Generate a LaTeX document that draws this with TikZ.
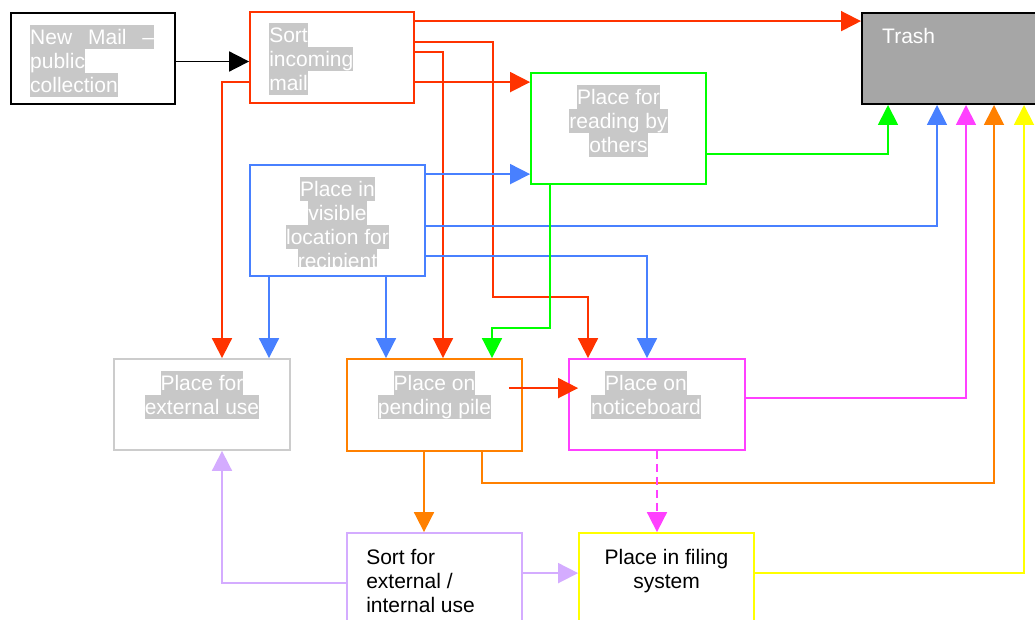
\documentclass[tikz,border=0pt]{standalone}
\usepackage{fontspec}
\setmainfont{Liberation Sans}
\usetikzlibrary{
  arrows.meta,
  positioning,
  calc
}
\definecolor{sortcolor}{RGB}{255, 51, 0}
\definecolor{visiblecolor}{RGB}{72, 128, 255}
\definecolor{readingcolor}{RGB}{0, 255, 0}
\definecolor{noticecolor}{RGB}{255, 64, 255}
\definecolor{pendingcolor}{RGB}{255, 128, 0}
\definecolor{filingcolor}{RGB}{255, 255, 0}
\definecolor{externalcolor}{RGB}{204, 204, 204}
\definecolor{sortextcolor}{RGB}{212, 172, 255}
\definecolor{trashcolor}{RGB}{166, 166, 166}
\definecolor{highlightcolor}{RGB}{200, 200, 200}
\newcommand{\linestrut}{\rule[-4.7pt]{0pt}{24pt}}
\newcommand{\hlline}[1]{{\setlength{\fboxsep}{0pt}\colorbox{highlightcolor}{\linestrut#1}}}
\tikzset{
mailbox/.style={
  draw,
  line width=1.8pt,
  minimum width=175pt,
  minimum height=91pt,
  inner sep=0pt
},
boxtext/.style={
  inner sep=0pt,
  font=\fontsize{21}{24}\selectfont,
  text=white,
  align=center
},
darktext/.style={
  boxtext,
  text=black
},
flow/.style={
  -{Triangle[length=20pt,width=20pt]},
  line width=1.8pt
},
redarrow/.style={flow, draw=sortcolor},
bluearrow/.style={flow, draw=visiblecolor},
greenarrow/.style={flow, draw=readingcolor},
magentaarrow/.style={flow, draw=noticecolor},
orangearrow/.style={flow, draw=pendingcolor},
yellowarrow/.style={flow, draw=filingcolor},
lavenderarrow/.style={flow, draw=sortextcolor},
dashedarrow/.style={
  magentaarrow,
  dash pattern=on 8pt off 5pt
}
}

\begin{document}
\begin{tikzpicture}[x=1pt, y=-1pt]
\clip (0,0) rectangle (1035,620);

% ============================================================================
% BOXES
% ============================================================================
\node[mailbox, draw=black, line width=2pt, minimum width=164pt] (newmail) at (93,58.5) {};
\node[boxtext, align=left, below right=13pt and 20pt of newmail.north west]
  {\hlline{\hbox to 124pt{New\hfill Mail\hfill –}}\\\hlline{public}\\\hlline{collection}};

\node[mailbox, draw=sortcolor, minimum width=164pt] (sortin) at (332,57.5) {};
\node[boxtext, align=left, below right=12pt and 20pt of sortin.north west]
  {\hlline{Sort}\\\hlline{incoming}\\\hlline{mail}};

\node[mailbox, draw=black, line width=2pt, fill=trashcolor, minimum width=184pt] (trash) at (954,58.5) {};
\node[boxtext, align=left, below right=12.5pt and 21pt of trash.north west] {\linestrut Trash};

\node[mailbox, draw=readingcolor, minimum height=111pt] (reading) at (618.5,128.5) {};
\node[boxtext, below=12.5pt of reading.north]
  {\hlline{Place for}\\\hlline{reading by}\\\hlline{others}};

\node[mailbox, draw=visiblecolor, minimum height=111pt] (visible) at (337.5,220.5) {};
\begin{scope}
  \clip (visible.north west) rectangle ($(visible.south east)+(0,-10)$);
  \node[boxtext, below=12.5pt of visible.north]
    {\hlline{Place in}\\\hlline{visible}\\\hlline{location for}\\\hlline{recipient}};
\end{scope}

\node[mailbox, draw=externalcolor, minimum width=176pt] (external) at (202,404.5) {};
\node[boxtext, below=13pt of external.north]
  {\hlline{Place for}\\\hlline{external use}};

\node[mailbox, draw=pendingcolor, minimum height=92pt] (pending) at (434.5,405) {};
\node[boxtext, below=13pt of pending.north]
  {\hlline{Place on}\\\hlline{pending pile}};

\node[mailbox, draw=noticecolor, minimum width=176pt] (notice) at (657,404.5) {};
\node[boxtext, below=13pt of notice.north, xshift=-11pt]
  {\hlline{Place on}\\\hlline{noticeboard}};

\node[mailbox, draw=sortextcolor, minimum height=111pt] (sortext) at (434.5,588.5) {};
\node[darktext, align=left, below right=13pt and 20pt of sortext.north west]
  {\linestrut Sort for\\\linestrut external /\\\linestrut internal use};

\node[mailbox, draw=filingcolor, minimum height=111pt] (filing) at (666.5,588.5) {};
\node[darktext, below=13pt of filing.north]
  {\linestrut Place in filing\\\linestrut system};

% ============================================================================
% CONNECTORS
% ============================================================================
\draw[flow, draw=black] ($(newmail.east)+(0,3)$) coordinate (n1) -- (n1 -| sortin.west);

% from sorting
\draw[redarrow] ($(sortin.north east)+(0,10)$) coordinate (r1) -- (r1 -| trash.west);
\draw[redarrow] ($(sortin.north east)+(0,31)$) -- ++(78,0) |- ($(notice.north)+(-69,-61)$) -- ($(notice.north)+(-69,0)$);
\draw[redarrow] ($(sortin.north east)+(0,41)$) -| ($(pending.north)+(8.5,0)$);
\draw[redarrow] ($(sortin.north east)+(0,71)$) -- ($(reading.north west)+(0,10)$);
\draw[redarrow] ($(sortin.north west)+(0,71)$) -| ($(external.north)+(20,0)$);

% from visible location
\draw[bluearrow] ($(visible.north east)+(0,10)$) coordinate (b1) -- (b1 -| reading.west);
\draw[bluearrow] ($(visible.north east)+(0,62)$) -| ($(trash.south)+(-17,0)$);
\draw[bluearrow] ($(visible.north east)+(0,92)$) -| ($(notice.north)+(-10,0)$);
\draw[bluearrow] ($(visible.south)+(-68.5,0)$) coordinate (b4) -- (b4 |- external.north);
\draw[bluearrow] ($(visible.south)+(48.5,0)$) coordinate (b5) -- (b5 |- pending.north);

% from reading
\draw[greenarrow] ($(reading.north east)+(0,82)$) -| ($(trash.south)+(-66,0)$);
\draw[greenarrow] ($(reading.south)+(-68.5,0)$) |- ($(pending.north)+(57.5,-30)$) -- ($(pending.north)+(57.5,0)$);

% from pending and noticeboard
\draw[redarrow] ($(pending.north east)+(-14,30)$) -- ($(notice.north west)+(10,30)$);
\draw[magentaarrow] ($(notice.north east)+(0,40)$) -| ($(trash.south)+(12,0)$);
\draw[orangearrow] ($(pending.south)+(47.5,0)$) -- ++(0,31) -| ($(trash.south)+(40,0)$);
\draw[orangearrow] ($(pending.south)+(-10.5,0)$) coordinate (o2) -- (o2 |- sortext.north);
\draw[dashedarrow] (notice.south) -- (notice.south |- filing.north);

% from sorting for use and filing
\draw[lavenderarrow] ($(sortext.north west)+(0,51)$) -| ($(external.south)+(20,0)$);
\draw[lavenderarrow] ($(sortext.north east)+(0,41)$) coordinate (l2) -- (l2 -| filing.west);
\draw[yellowarrow] ($(filing.north east)+(0,41)$) -| ($(trash.south)+(70,0)$);

\end{tikzpicture}
\end{document}
